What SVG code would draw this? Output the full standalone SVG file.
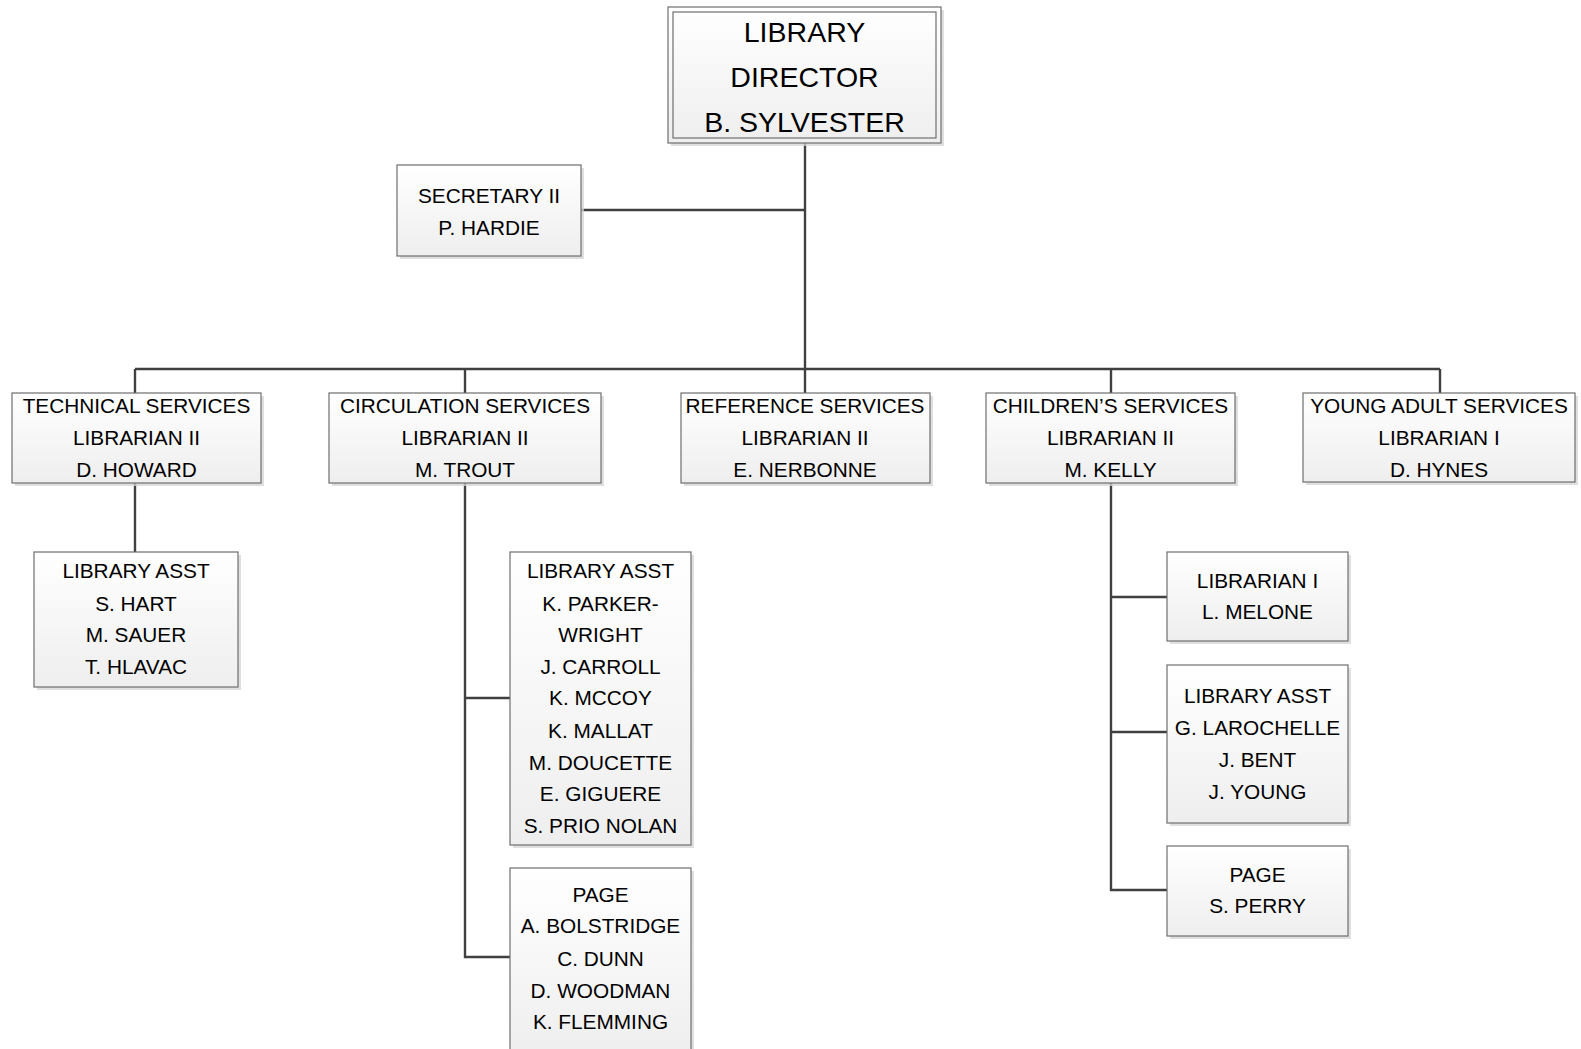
<svg xmlns="http://www.w3.org/2000/svg" width="1581" height="1049" viewBox="0 0 1581 1049">
  <defs>
    <linearGradient id="boxFill" x1="0" y1="0" x2="0" y2="1">
      <stop offset="0" stop-color="#ffffff"/>
      <stop offset="1" stop-color="#eeeeee"/>
    </linearGradient>
  </defs>
  <style>
    .shadow { fill: #d4d4d4; opacity: 0.75; }
    .box { fill: url(#boxFill); stroke: #6e6e6e; stroke-width: 1.2; }
    .inner { fill: none; stroke: #6e6e6e; stroke-width: 1.2; }
    .lbl { font-family: "Liberation Sans", Arial, sans-serif; font-size: 20.8px; fill: #000; text-anchor: middle; }
    .big { font-size: 28.5px; }
    .wire { fill: none; stroke: #404040; stroke-width: 2.4; }
  </style>

  <rect width="1581" height="1049" fill="#ffffff"/>

  <!-- reporting lines -->
  <g id="connectors">
    <path class="wire" d="M805 143 V393"/>
    <path class="wire" d="M581 210 H805"/>
    <path class="wire" d="M135 369 H1440"/>
    <path class="wire" d="M135 369 V393"/>
    <path class="wire" d="M465 369 V393"/>
    <path class="wire" d="M1111 369 V393"/>
    <path class="wire" d="M1440 369 V393"/>
    <path class="wire" d="M135 483 V552"/>
    <path class="wire" d="M465 483 V957 H510"/>
    <path class="wire" d="M465 698 H510"/>
    <path class="wire" d="M1111 483 V890 H1167"/>
    <path class="wire" d="M1111 597 H1167"/>
    <path class="wire" d="M1111 732 H1167"/>
  </g>

  <g id="director">
    <rect class="shadow" x="671" y="10" width="273" height="136"/>
    <rect class="box" x="668" y="7" width="273" height="136"/>
    <rect class="inner" x="673" y="12" width="263" height="126"/>
    <text class="lbl big" x="804.5" y="42">LIBRARY</text>
    <text class="lbl big" x="804.5" y="87">DIRECTOR</text>
    <text class="lbl big" x="804.5" y="132">B. SYLVESTER</text>
  </g>

  <g id="secretary">
    <rect class="shadow" x="400" y="168" width="184" height="91"/>
    <rect class="box" x="397" y="165" width="184" height="91"/>
    <text class="lbl" x="489" y="203">SECRETARY II</text>
    <text class="lbl" x="489" y="235">P. HARDIE</text>
  </g>

  <g id="technical">
    <rect class="shadow" x="15" y="396" width="249" height="90"/>
    <rect class="box" x="12" y="393" width="249" height="90"/>
    <text class="lbl" x="136.5" y="413">TECHNICAL SERVICES</text>
    <text class="lbl" x="136.5" y="445">LIBRARIAN II</text>
    <text class="lbl" x="136.5" y="476.5">D. HOWARD</text>
  </g>

  <g id="circulation">
    <rect class="shadow" x="332" y="396" width="272" height="90"/>
    <rect class="box" x="329" y="393" width="272" height="90"/>
    <text class="lbl" x="465" y="413">CIRCULATION SERVICES</text>
    <text class="lbl" x="465" y="445">LIBRARIAN II</text>
    <text class="lbl" x="465" y="476.5">M. TROUT</text>
  </g>

  <g id="reference">
    <rect class="shadow" x="684" y="396" width="249" height="90"/>
    <rect class="box" x="681" y="393" width="249" height="90"/>
    <text class="lbl" x="805" y="413">REFERENCE SERVICES</text>
    <text class="lbl" x="805" y="445">LIBRARIAN II</text>
    <text class="lbl" x="805" y="476.5">E. NERBONNE</text>
  </g>

  <g id="childrens">
    <rect class="shadow" x="989" y="396" width="249" height="90"/>
    <rect class="box" x="986" y="393" width="249" height="90"/>
    <text class="lbl" x="1110.5" y="413">CHILDREN’S SERVICES</text>
    <text class="lbl" x="1110.5" y="445">LIBRARIAN II</text>
    <text class="lbl" x="1110.5" y="476.5">M. KELLY</text>
  </g>

  <g id="young-adult">
    <rect class="shadow" x="1306" y="396" width="272" height="89"/>
    <rect class="box" x="1303" y="393" width="272" height="89"/>
    <text class="lbl" x="1439" y="413">YOUNG ADULT SERVICES</text>
    <text class="lbl" x="1439" y="445">LIBRARIAN I</text>
    <text class="lbl" x="1439" y="476.5">D. HYNES</text>
  </g>

  <g id="tech-assistants">
    <rect class="shadow" x="37" y="555" width="204" height="135"/>
    <rect class="box" x="34" y="552" width="204" height="135"/>
    <text class="lbl" x="136" y="578">LIBRARY ASST</text>
    <text class="lbl" x="136" y="610.5">S. HART</text>
    <text class="lbl" x="136" y="642">M. SAUER</text>
    <text class="lbl" x="136" y="674">T. HLAVAC</text>
  </g>

  <g id="circ-assistants">
    <rect class="shadow" x="513" y="555" width="181" height="293"/>
    <rect class="box" x="510" y="552" width="181" height="293"/>
    <text class="lbl" x="600.5" y="578">LIBRARY ASST</text>
    <text class="lbl" x="600.5" y="610.5">K. PARKER-</text>
    <text class="lbl" x="600.5" y="641.5">WRIGHT</text>
    <text class="lbl" x="600.5" y="674">J. CARROLL</text>
    <text class="lbl" x="600.5" y="705">K. MCCOY</text>
    <text class="lbl" x="600.5" y="737.5">K. MALLAT</text>
    <text class="lbl" x="600.5" y="769.5">M. DOUCETTE</text>
    <text class="lbl" x="600.5" y="801">E. GIGUERE</text>
    <text class="lbl" x="600.5" y="833">S. PRIO NOLAN</text>
  </g>

  <g id="circ-pages">
    <rect class="shadow" x="513" y="871" width="181" height="190"/>
    <rect class="box" x="510" y="868" width="181" height="190"/>
    <text class="lbl" x="600.5" y="902">PAGE</text>
    <text class="lbl" x="600.5" y="933">A. BOLSTRIDGE</text>
    <text class="lbl" x="600.5" y="965.5">C. DUNN</text>
    <text class="lbl" x="600.5" y="997.5">D. WOODMAN</text>
    <text class="lbl" x="600.5" y="1029">K. FLEMMING</text>
  </g>

  <g id="children-librarian">
    <rect class="shadow" x="1170" y="555" width="181" height="89"/>
    <rect class="box" x="1167" y="552" width="181" height="89"/>
    <text class="lbl" x="1257.5" y="587.5">LIBRARIAN I</text>
    <text class="lbl" x="1257.5" y="618.5">L. MELONE</text>
  </g>

  <g id="children-assistants">
    <rect class="shadow" x="1170" y="668" width="181" height="158"/>
    <rect class="box" x="1167" y="665" width="181" height="158"/>
    <text class="lbl" x="1257.5" y="703">LIBRARY ASST</text>
    <text class="lbl" x="1257.5" y="734.5">G. LAROCHELLE</text>
    <text class="lbl" x="1257.5" y="767">J. BENT</text>
    <text class="lbl" x="1257.5" y="799">J. YOUNG</text>
  </g>

  <g id="children-page">
    <rect class="shadow" x="1170" y="849" width="181" height="90"/>
    <rect class="box" x="1167" y="846" width="181" height="90"/>
    <text class="lbl" x="1257.5" y="881.5">PAGE</text>
    <text class="lbl" x="1257.5" y="913">S. PERRY</text>
  </g>
</svg>
